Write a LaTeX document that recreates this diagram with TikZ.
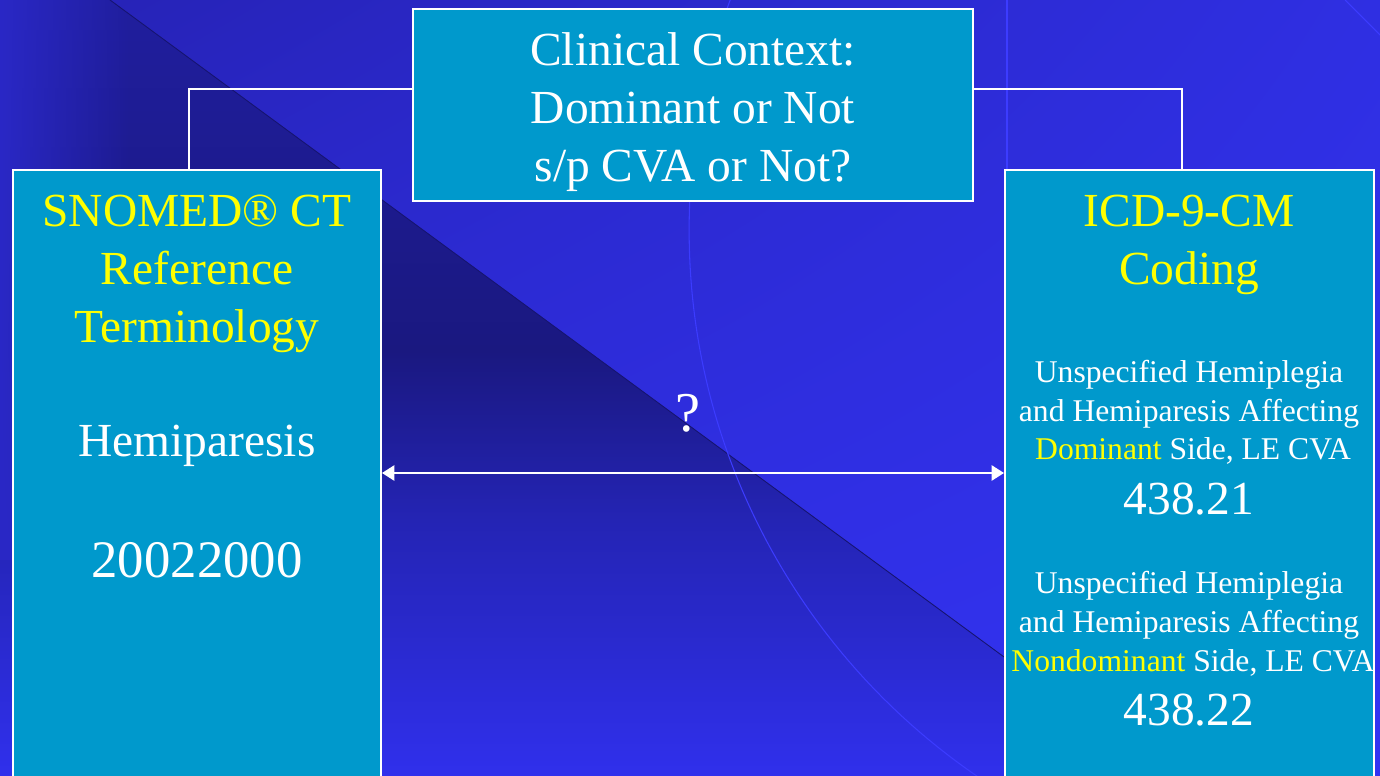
\documentclass[tikz,border=0pt]{standalone}
\usepackage{fontspec}
\setmainfont{Liberation Serif}
\usetikzlibrary{arrows.meta,fadings,shadings}
\definecolor{boxfill}{HTML}{0099CC}
\definecolor{ylw}{HTML}{FFFF00}
\definecolor{bgUL}{HTML}{2622B4}
\definecolor{bgUR}{HTML}{2F2FE2}
\definecolor{bgLL}{HTML}{3030EA}
\definecolor{bgLR}{HTML}{3333F2}
\definecolor{bgB}{HTML}{3030EC}
\definecolor{bgM}{HTML}{2424B4}
\definecolor{bgD}{HTML}{1A1880}
\definecolor{bgT}{HTML}{201E9E}
\definecolor{bgL}{HTML}{2A28C6}
\definecolor{edgeD}{HTML}{161470}
\definecolor{faint}{HTML}{3C3CFF}
\pgfdeclareverticalshading{darktri}{100bp}{color(0bp)=(bgB); color(25bp)=(bgB); color(41.5bp)=(bgM); color(52.4bp)=(bgD); color(75bp)=(bgT); color(100bp)=(bgT)}
\tikzfading[name=fadeRight, left color=transparent!0, right color=transparent!100]
\tikzset{
  box/.style={draw=white, line width=1.15pt, fill=boxfill, rectangle, inner sep=0pt},
  conn/.style={draw=white, line width=1.1pt},
  dblarrow/.style={draw=white, line width=1.4pt, {Triangle[length=7pt,width=8.5pt]}-{Triangle[length=7pt,width=8.5pt]}},
  big/.style={font=\fontsize{27}{33}\selectfont, anchor=base, inner sep=0pt},
  bignum/.style={font=\fontsize{30}{36}\selectfont, anchor=base, inner sep=0pt},
  small/.style={font=\fontsize{18}{22}\selectfont, anchor=base, inner sep=0pt},
  qmark/.style={font=\fontsize{32}{38}\selectfont, anchor=base, inner sep=0pt},
  faintline/.style={draw=faint, line width=0.6pt}
}
\begin{document}
\begin{tikzpicture}[x=0.02cm, y=-0.02cm]
\useasboundingbox (0,0) rectangle (1380,776);
\clip (0,0) rectangle (1380,776);
% background
\shade[upper left=bgUL, upper right=bgUR, lower left=bgLL, lower right=bgLR] (0,0) rectangle (1380,776);
\shade[shading=darktri] (110,0) -- (1166,776) -- (0,776) -- (0,0) -- cycle;
\fill[bgL, path fading=fadeRight] (0,0) rectangle (130,560);
\draw[edgeD, line width=0.5pt] (110,0) -- (1166,776);
\draw[faintline] (1351,230) circle [radius=13.24cm];
\draw[faintline] (1345,0) -- (1390,45);
\draw[faintline, line width=0.8pt] (1007,0) -- (1007,170);
% boxes
\node[box, minimum width=7.36cm, minimum height=12.32cm] (snomed) at (197,478) {};
\node[box, minimum width=11.2cm, minimum height=3.84cm] (context) at (693,105) {};
\node[box, minimum width=7.38cm, minimum height=12.32cm] (icd) at (1189.5,478) {};
% connectors
\coordinate (lk) at (0,89);
\coordinate (lx) at (189,0);
\coordinate (rx) at (1182,0);
\coordinate (ay) at (0,473);
\draw[conn] (context.west |- lk) -| (snomed.north -| lx);
\draw[conn] (context.east |- lk) -| (icd.north -| rx);
\draw[dblarrow] (snomed.east |- ay) -- (icd.west |- ay);
% left text
\node[big, text=ylw] (s1) at (197,227) {SNOMED® CT};
\node[big, text=ylw] (s2) at (197,285) {Reference};
\node[big, text=ylw] (s3) at (197,343) {Terminology};
\node[big, text=white] (s4) at (197,457) {Hemiparesis};
\node[bignum, text=white] (s5) at (197,578) {20022000};
% top text
\node[big, text=white] (c1) at (693,66) {Clinical Context:};
\node[big, text=white] (c2) at (693,124) {Dominant or Not};
\node[big, text=white] (c3) at (693,182) {s/p CVA or Not?};
% question mark
\node[qmark, text=white] (q) at (688,432) {?};
% right text
\node[big, text=ylw] (i1) at (1189,227) {ICD-9-CM};
\node[big, text=ylw] (i2) at (1189,285) {Coding};
\node[small, text=white] (d1) at (1189,383) {Unspecified Hemiplegia};
\node[small, text=white] (d2) at (1189,422) {and Hemiparesis Affecting};
\node[small, text=white] (d3) at (1193,460) {\textcolor{ylw}{Dominant} Side, LE CVA};
\node[big, text=white] (d4) at (1189,515) {438.21};
\node[small, text=white] (n1) at (1189,594) {Unspecified Hemiplegia};
\node[small, text=white] (n2) at (1189,633) {and Hemiparesis Affecting};
\node[small, text=white] (n3) at (1193,672) {\textcolor{ylw}{Nondominant} Side, LE CVA};
\node[big, text=white] (n4) at (1189,725) {438.22};
\end{tikzpicture}
\end{document}
